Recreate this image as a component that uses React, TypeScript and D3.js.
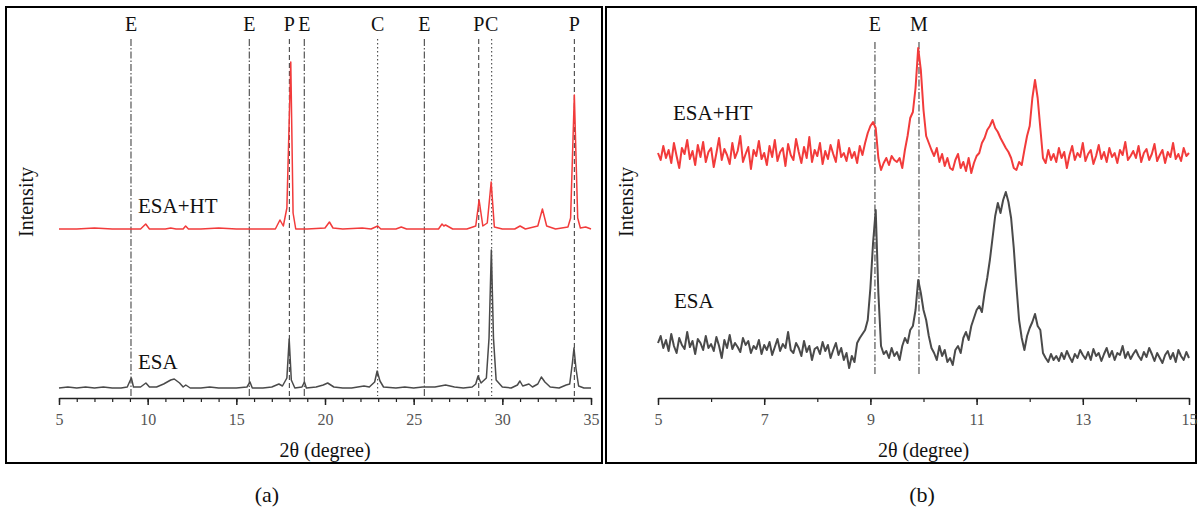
import React, { useEffect, useRef } from "react";
import * as d3 from "d3";

// ---------- panel (a): 2θ 5–35 ----------
const esaA_x = [5.0, 5.5, 6.0, 6.5, 7.0, 7.5, 8.0, 8.5, 8.85, 9.0, 9.08, 9.2, 9.6, 9.9, 10.1, 10.5, 10.9, 11.3, 11.5, 11.8, 12.0, 12.15, 12.4, 13.0, 13.5, 14.0, 14.5, 15.0, 15.6, 15.77, 15.9, 16.5, 17.0, 17.4, 17.6, 17.85, 17.98, 18.1, 18.3, 18.7, 18.84, 18.95, 19.5, 19.9, 20.15, 20.5, 21.0, 21.5, 22.2, 22.5, 22.8, 22.94, 23.1, 23.3, 24.0, 24.5, 25.0, 25.5, 26.2, 26.8, 27.3, 27.8, 28.3, 28.5, 28.63, 28.8, 29.1, 29.25, 29.38, 29.5, 29.65, 30.0, 30.5, 30.85, 30.99, 31.15, 31.5, 31.7, 32.0, 32.2, 32.4, 32.7, 33.2, 33.6, 33.8, 33.95, 34.04, 34.15, 34.3, 34.6, 35.0];
const esaA_y = [10, 11, 10, 11, 10, 11, 10, 10, 11, 17, 20, 11, 11, 15, 11, 11, 14, 18, 19, 15, 11, 13, 10, 10, 11, 10, 10, 10, 11, 16, 10, 10, 11, 14, 12, 20, 59, 18, 10, 11, 16, 10, 11, 13, 15, 11, 10, 10, 12, 11, 16, 27, 17, 11, 10, 11, 10, 11, 11, 13, 11, 10, 11, 14, 22, 15, 20, 60, 148, 60, 18, 11, 10, 13, 17, 12, 14, 11, 14, 21, 16, 11, 10, 13, 14, 35, 50, 30, 12, 10, 10];

const htA_x = [5.0, 6.0, 7.0, 8.0, 9.0, 9.6, 9.89, 10.1, 11.0, 11.3, 11.6, 12.0, 12.14, 12.3, 13.0, 14.0, 15.0, 16.0, 17.2, 17.46, 17.65, 17.85, 18.07, 18.2, 18.35, 19.0, 20.0, 20.25, 20.45, 21.0, 22.1, 22.6, 22.97, 23.15, 24.0, 24.3, 24.6, 25.5, 26.4, 26.6, 26.7, 26.8, 27.2, 28.0, 28.5, 28.69, 28.9, 29.15, 29.37, 29.55, 30.0, 30.7, 31.0, 31.3, 32.0, 32.26, 32.5, 33.0, 33.7, 33.85, 34.06, 34.25, 34.4, 34.7, 35.0];
const htA_y = [9, 9, 10, 9, 9, 9, 14, 9, 9, 10, 9, 9, 12, 9, 9, 10, 9, 9, 9, 18, 12, 30, 176, 25, 9, 9, 10, 16, 10, 9, 10, 9, 12, 9, 9, 11, 9, 9, 9, 14, 12, 13, 9, 9, 12, 38, 12, 15, 56, 11, 9, 9, 12, 9, 12, 29, 12, 9, 11, 20, 143, 20, 10, 11, 9];

// reference lines for panel (a)
const refA_pos = [9.06, 15.73, 17.99, 18.83, 22.97, 25.6, 28.67, 29.4, 34.06];
const refA_lab = ["E", "E", "P", "E", "C", "E", "P", "C", "P"];

// ---------- panel (b): 2θ 5–15, step 0.05 ----------
const esaB = [
  55, 62, 50, 58, 47, 64, 52, 45, 60, 53,
  49, 66, 51, 57, 44, 59, 55, 48, 62, 50,
  54, 47, 61, 52, 40, 58, 50, 63, 49, 55,
  51, 46, 60, 53, 57, 45, 52, 49, 58, 44,
  53, 48, 56, 43, 51, 59, 47, 54, 50, 66,
  48, 45, 55, 50, 42, 57, 46, 52, 38, 49,
  51, 44, 56, 47, 53, 40, 48, 55, 43, 50,
  38, 45, 30, 42, 36, 55, 60, 64, 68, 78,
  110, 155, 188, 105, 52, 44, 47, 40, 50, 42,
  46, 38, 52, 60, 55, 68, 72, 88, 118, 105,
  88, 78, 62, 50, 45, 38, 52, 42, 48, 36,
  40, 33, 48, 52, 45, 60, 66, 58, 72, 80,
  88, 92, 86, 105, 120, 138, 160, 182, 195, 185,
  198, 206, 196, 180, 150, 112, 78, 60, 48, 62,
  70, 76, 84, 72, 68, 45, 40, 36, 44, 38,
  42, 37, 45, 39, 47, 41, 36, 44, 40, 48,
  43, 39, 46, 38, 49, 42, 45, 37, 44, 50,
  41, 47, 38, 45, 43, 52, 40, 46, 39, 44,
  48, 42, 38, 46, 41, 50, 44, 37, 45, 40,
  35, 43, 47, 39, 45, 36, 48, 42, 38, 46, 40,
];
const htB = [
  45, 38, 52, 40, 48, 35, 55, 42, 30, 50,
  44, 58, 39, 47, 33, 53, 41, 56, 36, 46,
  50, 31, 45, 60, 38, 49, 43, 34, 55, 40,
  47, 62, 36, 44, 51, 29, 48, 42, 57, 39,
  45, 33, 52, 41, 58, 37, 46, 50, 32, 54,
  43, 38, 59, 46, 35, 51, 40, 61, 36, 48,
  42, 55, 34, 47, 39, 53, 44, 36, 58, 41,
  45, 37, 50, 40, 46, 35, 52, 43, 55, 65,
  72, 76, 70, 40, 28, 35, 40, 33, 42, 38,
  36, 40, 30, 48, 62, 80, 86, 110, 150, 128,
  88, 62, 55, 48, 42, 50, 36, 44, 32, 40,
  30, 28, 38, 44, 30, 36, 27, 40, 25, 35,
  42, 45, 55, 60, 68, 72, 78, 70, 66, 60,
  55, 50, 46, 40, 30, 28, 36, 33, 48, 62,
  72, 100, 118, 100, 70, 40, 35, 48, 38, 44,
  36, 50, 40, 46, 30, 43, 52, 38, 45, 41,
  55, 37, 44, 48, 34, 42, 53, 39, 46, 36,
  50, 41, 45, 35, 48, 43, 56, 38, 42, 47,
  40, 52, 36, 45, 49, 38, 44, 54, 37, 43,
  48, 35, 46, 41, 55, 39, 44, 37, 50, 42, 45,
];
const thetaB = esaB.map((_, i) => 5 + i * 0.05);
const refB_pos = [9.086, 9.915];
const refB_lab = ["E", "M"];

const offsetA = 160;
const offsetB = 200;
const RED = "#f23b3b";
const DARK = "#4a4a4a";
const FONT = "Liberation Serif, serif";

const dashFor = (lab) =>
  lab === "P" ? "5,3" : lab === "C" ? "1.5,2.5" : "7,2,1.5,2";

const App = () => {
  const svgRef = useRef(null);

  useEffect(() => {
    const svg = d3.select(svgRef.current);
    svg.selectAll("*").remove();
    svg.append("rect").attr("width", 1198).attr("height", 510).attr("fill", "#fff");

    const axisY = 398;

    const drawPanel = (opts) => {
      const { x0, x1, domain, frame, major, minor, series, refs, labels, dashes, lw, refTop, refBottom, labelY } = opts;
      const x = d3.scaleLinear().domain(domain).range([x0, x1]);
      const y = d3.scaleLinear().domain([0, 360]).range([axisY, axisY - 360]);
      const g = svg.append("g");

      // frame
      g.append("rect")
        .attr("x", frame[0]).attr("y", 7)
        .attr("width", frame[1] - frame[0]).attr("height", 456)
        .attr("fill", "none").attr("stroke", "#000").attr("stroke-width", 2);

      // reference lines
      refs.forEach((p, i) => {
        g.append("line")
          .attr("x1", x(p)).attr("x2", x(p))
          .attr("y1", refTop).attr("y2", refBottom)
          .attr("stroke", "#333").attr("stroke-width", 1)
          .attr("stroke-dasharray", dashes[i]);
        g.append("text")
          .attr("x", x(p)).attr("y", labelY)
          .attr("text-anchor", "middle")
          .attr("font-family", FONT).attr("font-size", 20)
          .attr("fill", "#111")
          .text(labels[i]);
      });

      // series
      series.forEach((s) => {
        const line = d3.line()
          .x((d) => x(d[0]))
          .y((d) => y(d[1] + s.offset));
        g.append("path")
          .datum(s.xs.map((v, i) => [v, s.ys[i]]))
          .attr("fill", "none")
          .attr("stroke", s.color)
          .attr("stroke-width", lw)
          .attr("stroke-linejoin", "round")
          .attr("d", line);
        g.append("text")
          .attr("x", s.lx).attr("y", s.ly)
          .attr("font-family", FONT).attr("font-size", 21)
          .attr("fill", "#111")
          .text(s.name);
      });

      // axis
      const minorAxis = d3.axisBottom(x).tickValues(minor).tickSize(4).tickFormat(() => "");
      g.append("g").attr("transform", `translate(0,${axisY})`).call(minorAxis)
        .call((a) => a.select(".domain").remove())
        .selectAll("line").attr("stroke", "#222").attr("stroke-width", 1.2);
      const majorAxis = d3.axisBottom(x).tickValues(major).tickSize(7).tickSizeOuter(0).tickPadding(9).tickFormat(d3.format("d"));
      const ag = g.append("g").attr("transform", `translate(0,${axisY})`).call(majorAxis);
      ag.select(".domain").attr("stroke", "#222").attr("stroke-width", 1.5);
      ag.selectAll("line").attr("stroke", "#222").attr("stroke-width", 1.5);
      ag.selectAll("text")
        .attr("font-family", FONT).attr("font-size", 16).attr("fill", "#555");

      // titles
      g.append("text")
        .attr("x", (x0 + x1) / 2).attr("y", 457)
        .attr("text-anchor", "middle")
        .attr("font-family", FONT).attr("font-size", 20).attr("fill", "#111")
        .text("2θ (degree)");
      g.append("text")
        .attr("transform", `translate(${frame[0] + 27},202) rotate(-90)`)
        .attr("text-anchor", "middle")
        .attr("font-family", FONT).attr("font-size", 20).attr("fill", "#111")
        .text("Intensity");
      g.append("text")
        .attr("x", opts.subX).attr("y", 502)
        .attr("text-anchor", "middle")
        .attr("font-family", FONT).attr("font-size", 22).attr("fill", "#111")
        .text(opts.sub);
    };

    drawPanel({
      x0: 59, x1: 591, domain: [5, 35], frame: [6, 602],
      major: d3.range(5, 36, 5), minor: d3.range(5, 36, 1),
      refs: refA_pos, labels: refA_lab, dashes: refA_lab.map(dashFor),
      lw: 1.5, refTop: 39, refBottom: 396, labelY: 31,
      sub: "(a)", subX: 267,
      series: [
        { name: "ESA+HT", xs: htA_x, ys: htA_y, offset: offsetA, color: RED, lx: 138, ly: 213 },
        { name: "ESA", xs: esaA_x, ys: esaA_y, offset: 0, color: DARK, lx: 138, ly: 369 },
      ],
    });

    drawPanel({
      x0: 658, x1: 1189, domain: [5, 15], frame: [606, 1196],
      major: d3.range(5, 16, 2), minor: d3.range(5, 16, 1),
      refs: refB_pos, labels: refB_lab, dashes: ["7,2,1.5,2", "7,2,1.5,2"],
      lw: 2, refTop: 42, refBottom: 376, labelY: 31,
      sub: "(b)", subX: 922,
      series: [
        { name: "ESA+HT", xs: thetaB, ys: htB, offset: offsetB, color: RED, lx: 673, ly: 120 },
        { name: "ESA", xs: thetaB, ys: esaB, offset: 0, color: DARK, lx: 674, ly: 308 },
      ],
    });
  }, []);

  return (
    <svg
      ref={svgRef}
      width={1198}
      height={510}
      style={{ position: "absolute", left: 0, top: 0 }}
    ></svg>
  );
};

export default App;
